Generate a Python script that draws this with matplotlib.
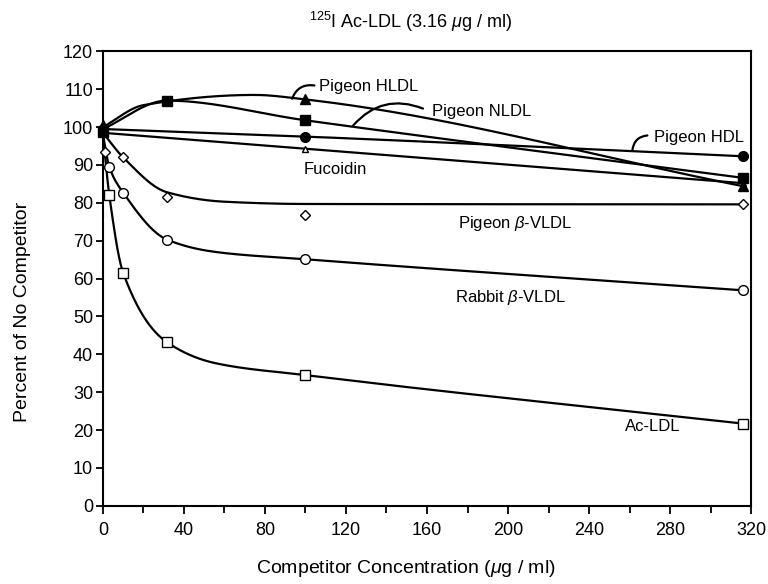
import numpy as np
import matplotlib
matplotlib.use("Agg")
import matplotlib.pyplot as plt

plt.rcParams['font.family'] = ['Liberation Sans', 'DejaVu Sans']
plt.rcParams['mathtext.fontset'] = 'custom'
plt.rcParams['mathtext.rm'] = 'Liberation Sans'
plt.rcParams['mathtext.it'] = 'Liberation Sans:italic'

# ---- data (x in ug/ml, y in percent of no competitor) ----
# marker points
hldl_x = [0, 100, 316]
hldl_y = [100.5, 107.3, 84.4]
nldl_x = [0, 31.6, 100, 316]
nldl_y = [98.8, 107.0, 101.8, 86.6]
hdl_x = [0, 100, 316]
hdl_y = [99.5, 97.5, 92.3]
fuco_x = [100, 316]
fuco_y = [94.3, 85.2]
pvldl_x = [1, 10, 31.6, 100, 316]
pvldl_y = [93.4, 92.1, 81.5, 76.7, 79.6]
rvldl_x = [3.16, 10, 31.6, 100, 316]
rvldl_y = [89.5, 82.7, 70.3, 65.1, 56.9]
acldl_x = [3.16, 10, 31.6, 100, 316]
acldl_y = [82.0, 61.5, 43.2, 34.5, 21.7]

# hand-drawn curve traces (knots of the drawn lines)
hldl_cx = [0, 20, 75, 100, 316]
hldl_cy = [100.0, 105.8, 108.5, 107.3, 84.4]
nldl_cx = [0, 31.6, 100, 316]
nldl_cy = [99.5, 107.0, 101.8, 86.6]
hdl_cx = [0, 100, 316]
hdl_cy = [99.5, 97.5, 92.3]
fuco_cx = [0, 100, 316]
fuco_cy = [98.5, 94.3, 85.2]
pvldl_cx = [0, 10, 31.6, 60, 100, 316]
pvldl_cy = [98.5, 92.0, 82.8, 80.3, 79.7, 79.6]
rvldl_cx = [0, 3.16, 10, 31.6, 56, 100, 316]
rvldl_cy = [98.0, 89.5, 82.7, 70.3, 67.0, 65.1, 56.9]
acldl_cx = [0, 3.16, 10, 31.6, 56, 100, 316]
acldl_cy = [98.0, 82.0, 61.5, 43.2, 37.6, 34.5, 21.7]


def pchip(x, y, xs):
    x = np.asarray(x, float)
    y = np.asarray(y, float)
    h = np.diff(x)
    d = np.diff(y) / h
    m = np.zeros_like(y)
    for k in range(1, len(x) - 1):
        if d[k - 1] * d[k] > 0:
            w1 = 2 * h[k] + h[k - 1]
            w2 = h[k] + 2 * h[k - 1]
            m[k] = (w1 + w2) / (w1 / d[k - 1] + w2 / d[k])
    m[0] = d[0]
    m[-1] = d[-1]
    idx = np.clip(np.searchsorted(x, xs) - 1, 0, len(x) - 2)
    t = (xs - x[idx]) / h[idx]
    h00 = 2 * t**3 - 3 * t**2 + 1
    h10 = t**3 - 2 * t**2 + t
    h01 = -2 * t**3 + 3 * t**2
    h11 = t**3 - t**2
    return h00 * y[idx] + h10 * h[idx] * m[idx] + h01 * y[idx + 1] + h11 * h[idx] * m[idx + 1]


fig = plt.figure(figsize=(7.68, 5.84), dpi=100)
ax = fig.add_axes([0.134, 0.134, 0.844, 0.778])

lw = 1.6
curves = [
    (hldl_cx, hldl_cy), (nldl_cx, nldl_cy), (hdl_cx, hdl_cy), (fuco_cx, fuco_cy),
    (pvldl_cx, pvldl_cy), (rvldl_cx, rvldl_cy), (acldl_cx, acldl_cy),
]
for cx, cy in curves:
    xs = np.linspace(cx[0], cx[-1], 400)
    ax.plot(xs, pchip(cx, cy, xs), color='black', lw=lw, zorder=2)

open_kw = dict(ls='none', mfc='white', mec='black', mew=1.0, zorder=3, clip_on=False)
fill_kw = dict(ls='none', color='black', zorder=4, clip_on=False)
ax.plot(acldl_x, acldl_y, marker='s', ms=7, **open_kw)
ax.plot(rvldl_x, rvldl_y, marker='o', ms=7, **open_kw)
ax.plot(pvldl_x, pvldl_y, marker='D', ms=5.5, **open_kw)
ax.plot(fuco_x, fuco_y, marker='^', ms=5, **open_kw)
ax.plot(hdl_x, hdl_y, marker='o', ms=7, **fill_kw)
ax.plot(nldl_x, nldl_y, marker='s', ms=7.5, **fill_kw)
ax.plot(hldl_x, hldl_y, marker='^', ms=7.5, **fill_kw)

ax.set_xlim(0, 320)
ax.set_ylim(0, 120)
ax.set_xticks(np.arange(0, 321, 40))
ax.set_xticks(np.arange(0, 321, 20), minor=True)
ax.set_yticks(np.arange(0, 121, 10))
ax.tick_params(axis='both', which='both', direction='out', width=1.3, labelsize=13)
ax.tick_params(axis='x', which='major', length=6, pad=6)
ax.tick_params(axis='x', which='minor', length=5)
ax.tick_params(axis='y', length=5, pad=2)
for s in ax.spines.values():
    s.set_linewidth(1.5)

fs = 12
ax.text(106.7, 110.6, 'Pigeon HLDL', fontsize=fs, va='center')
ax.text(162.4, 104.0, 'Pigeon NLDL', fontsize=fs, va='center')
ax.text(272.3, 97.3, 'Pigeon HDL', fontsize=fs, va='center')
ax.text(98.9, 88.8, 'Fucoidin', fontsize=fs, va='center')
ax.text(175.2, 74.6, r'Pigeon $\beta$-VLDL', fontsize=fs, va='center')
ax.text(173.8, 55.1, r'Rabbit $\beta$-VLDL', fontsize=fs, va='center')
ax.text(257.5, 20.8, 'Ac-LDL', fontsize=fs, va='center')

lead = dict(arrowstyle='-', lw=1.6, color='black', shrinkA=0, shrinkB=0)
ax.annotate('', xy=(93.4, 107.5), xytext=(104.4, 111.0),
            arrowprops=dict(connectionstyle='arc3,rad=0.4', **lead))
ax.annotate('', xy=(123.5, 100.4), xytext=(158.0, 104.9),
            arrowprops=dict(connectionstyle='arc3,rad=0.35', **lead))
ax.annotate('', xy=(261.4, 93.9), xytext=(268.8, 97.8),
            arrowprops=dict(connectionstyle='arc3,rad=0.4', **lead))

fig.text(0.535, 0.962, r'$^{125}$I Ac-LDL (3.16 $\mu$g / ml)', fontsize=13,
         ha='center', va='center')
fig.text(0.528, 0.027, r'Competitor Concentration ($\mu$g / ml)', fontsize=14,
         ha='center', va='center')
fig.text(0.029, 0.466, 'Percent of No Competitor', fontsize=14,
         ha='center', va='center', rotation=90)

fig.savefig('out.png', dpi=100)
